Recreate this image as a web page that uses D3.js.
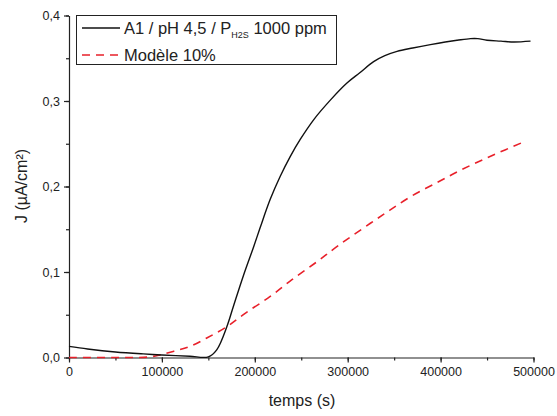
<!DOCTYPE html>
<html><head><meta charset="utf-8">
<script src="https://cdn.jsdelivr.net/npm/d3@7"></script>
<style>body{margin:0;background:#fff}svg{display:block;font-family:"Liberation Sans",Arial,sans-serif}</style>
</head><body><svg id="c" width="557" height="416"></svg>
<script>
const xTicks=[0,100000,200000,300000,400000,500000];
const yTicks=[0,0.1,0.2,0.3,0.4];
const expT=[0,20000,50000,80000,100000,130000,150000,159000,169900,177000,187800,198600,205800,216600,227400,238100,248900,263300,281300,299200,313000,327900,340000,353100,370000,389000,405000,417800,432100,440000,450000,465000,478700,496800];
const expJ=[0.013,0.010,0.0065,0.0042,0.003,0.0015,0.0008,0.009,0.036,0.060,0.096,0.129,0.152,0.185,0.212,0.235,0.255,0.278,0.301,0.321,0.333,0.346,0.353,0.358,0.362,0.366,0.369,0.371,0.373,0.373,0.371,0.370,0.369,0.370];
const modT=[0,50000,85000,98000,115000,130400,148300,169900,190000,216600,240000,266900,290000,324400,345000,367500,395000,421400,455000,491400];
const modJ=[0,0,0.0005,0.003,0.008,0.013,0.0228,0.036,0.052,0.0714,0.091,0.112,0.131,0.157,0.172,0.188,0.204,0.219,0.236,0.253];

const svg=d3.select("#c");
const x=d3.scaleLinear().domain([0,500000]).range([69,533.5]);
const y=d3.scaleLinear().domain([0,0.4]).range([357.5,15.5]);
const fmtY=d=>d3.format(".1f")(d).replace(".",",");

const xMinor=d3.range(0,500001,50000), yMinor=d3.range(0,0.4001,0.05);
svg.append("g").attr("transform","translate(0,357.5)")
  .call(d3.axisBottom(x).tickValues(xMinor).tickSize(3).tickFormat(""))
  .call(g=>g.select(".domain").remove());
svg.append("g").attr("transform","translate(69,0)")
  .call(d3.axisLeft(y).tickValues(yMinor).tickSize(3).tickFormat(""))
  .call(g=>g.select(".domain").remove());
const xa=svg.append("g").attr("transform","translate(0,357.5)")
  .call(d3.axisBottom(x).tickValues(xTicks).tickSize(5).tickSizeOuter(0).tickPadding(5).tickFormat(d3.format("d")));
const ya=svg.append("g").attr("transform","translate(69,0)")
  .call(d3.axisLeft(y).tickValues(yTicks).tickSize(5).tickSizeOuter(0).tickPadding(4).tickFormat(fmtY));
svg.selectAll(".tick text").attr("font-size",12.5).attr("fill","#222").attr("font-family","Liberation Sans, Arial, sans-serif");
svg.selectAll(".domain,.tick line").attr("stroke","#222").attr("stroke-width",1.2);

const line=d3.line().x(d=>x(d[0])).y(d=>y(d[1])).curve(d3.curveCatmullRom.alpha(0.5));
svg.append("path").datum(modT.map((t,i)=>[t,modJ[i]])).attr("d",line)
  .attr("fill","none").attr("stroke","#e8202a").attr("stroke-width",1.6).attr("stroke-dasharray","8,6");
svg.append("path").datum(expT.map((t,i)=>[t,expJ[i]])).attr("d",line)
  .attr("fill","none").attr("stroke","#111").attr("stroke-width",1.4);

svg.append("text").attr("x",302).attr("y",406).attr("text-anchor","middle").attr("font-size",16).attr("fill","#222").text("temps (s)");
svg.append("text").attr("transform","translate(27,186) rotate(-90)").attr("text-anchor","middle").attr("font-size",16).attr("fill","#222").text("J (µA/cm²)");

// legend
svg.append("rect").attr("x",76.5).attr("y",15.5).attr("width",260).attr("height",49).attr("fill","#fff").attr("stroke","#222").attr("stroke-width",1);
svg.append("line").attr("x1",82).attr("x2",120).attr("y1",28).attr("y2",28).attr("stroke","#111").attr("stroke-width",1.4);
svg.append("line").attr("x1",82).attr("x2",120).attr("y1",55).attr("y2",55).attr("stroke","#e8202a").attr("stroke-width",1.6).attr("stroke-dasharray","8,6");
const t1=svg.append("text").attr("x",124).attr("y",34).attr("font-size",16.5).attr("fill","#222");
t1.append("tspan").text("A1 / pH 4,5 / P");
t1.append("tspan").attr("font-size",9).attr("dy",4).text("H2S");
t1.append("tspan").attr("dy",-4).text(" 1000 ppm");
svg.append("text").attr("x",124).attr("y",61).attr("font-size",16.5).attr("fill","#222").text("Modèle 10%");
</script></body></html>
